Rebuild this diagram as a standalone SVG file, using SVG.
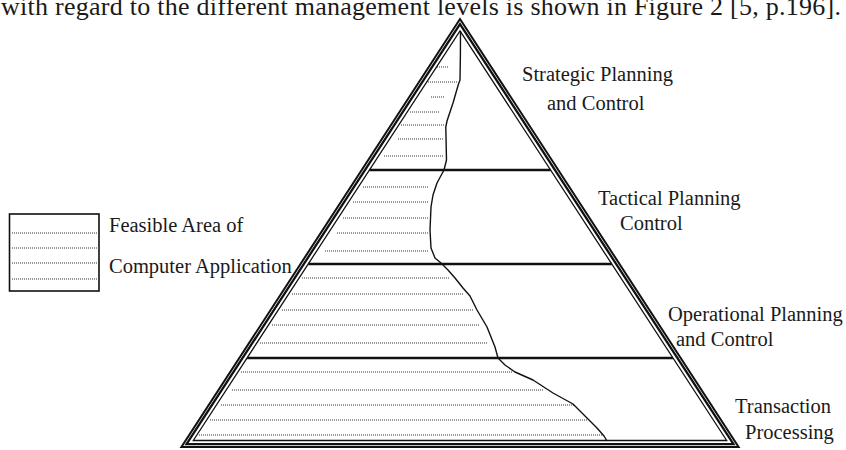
<svg xmlns="http://www.w3.org/2000/svg" width="846" height="450" viewBox="0 0 846 450">
  <style>
    .txt { font-family: "Liberation Serif", "Times New Roman", serif; fill: #1a1a1a; }
    .lbl { font-size: 20.5px; }
    .frame { fill: none; stroke: #111; stroke-linejoin: miter; }
    .level { stroke: #111; stroke-width: 2.5; }
    .dots { stroke: #333; stroke-width: 1; stroke-dasharray: 1 1; fill: none; }
    .curve { fill: none; stroke: #111; stroke-width: 1.4; stroke-linejoin: round; }
  </style>
  <rect width="846" height="450" fill="#ffffff"/>

  <!-- running text line above the figure -->
  <text class="txt" x="1" y="15" font-size="26" textLength="840" lengthAdjust="spacing">with regard to the different management levels is shown in Figure 2 [5, p.196].</text>

  <!-- legend -->
  <g id="legend">
    <rect x="9.5" y="214" width="89.5" height="77" fill="none" stroke="#111" stroke-width="1.6"/>
    <path class="dots" d="M12 233H97M12 248H97M12 263H97M12 279H97"/>
    <text class="txt lbl" x="109" y="232">Feasible Area of</text>
    <text class="txt lbl" x="109" y="273">Computer Application</text>
  </g>

  <!-- pyramid -->
  <g id="pyramid">
    <!-- feasible area hatching -->
    <path class="dots" d="
      M437 67H449 M428 82H458 M431 97H444 M410 112H440 M401 125H444 M398 139H443 M384 156H443
      M363 187H428 M353 202H428 M343 218H428 M337 233H428 M325 251H428
      M302 278H450 M292 294H463 M282 310H473 M272 325H480 M260 343H487
      M241 372H512 M232 390H543 M221 405H574 M210 420H588 M199 435H602"/>

    <!-- boundary of the feasible area -->
    <path class="curve" d="M460.5 31 L460.4 55 L460 80 L458.5 84 L453 103 L447 121 L445.8 127 L446.5 160 L444 170 L437 183 L433 195 L431 207 L430 230 L431 248 L435 258 L441 263 L448 270 L455 278 L463 288 L470 296 L477 310 L487 327 L495 347 L498 358 L505 365 L515 372 L533 380 L553 393 L573 404 L586 417 L597 428 L604 436 L607 441"/>

    <!-- level dividers -->
    <line class="level" x1="369.4" y1="170" x2="550.6" y2="170"/>
    <line class="level" x1="308.3" y1="264" x2="611.7" y2="264"/>
    <line class="level" x1="247.1" y1="358" x2="672.9" y2="358"/>

    <!-- triple outline -->
    <polygon class="frame" stroke-width="2" points="460,19 738.6,447 181.4,447"/>
    <polygon class="frame" stroke-width="2.3" points="460,24.1 733.5,444.2 186.5,444.2"/>
    <polygon class="frame" stroke-width="1.3" points="460,30.9 726.7,440.5 193.3,440.5"/>
  </g>

  <g id="level-strategic">
    <text class="txt lbl" x="522" y="81">Strategic Planning</text>
    <text class="txt lbl" x="547" y="110">and Control</text>
  </g>
  <g id="level-tactical">
    <text class="txt lbl" x="598" y="205">Tactical Planning</text>
    <text class="txt lbl" x="620" y="230">Control</text>
  </g>
  <g id="level-operational">
    <text class="txt lbl" x="668" y="321">Operational Planning</text>
    <text class="txt lbl" x="676" y="346">and Control</text>
  </g>
  <g id="level-transaction">
    <text class="txt lbl" x="735" y="413">Transaction</text>
    <text class="txt lbl" x="745" y="439">Processing</text>
  </g>

  <g id="connectors"/>
</svg>
